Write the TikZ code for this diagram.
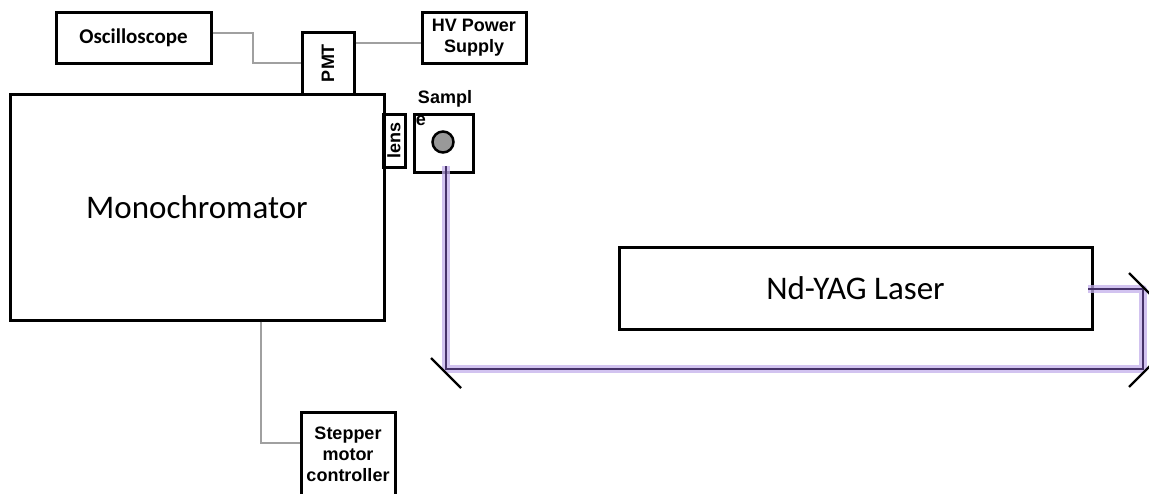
\documentclass[tikz,border=0pt]{standalone}
\usepackage{fontspec}
\setmainfont{Liberation Sans}
\newfontfamily\carlitofont{Carlito}
\definecolor{glow}{RGB}{195,175,235}
\definecolor{beamcore}{RGB}{70,50,105}
\definecolor{wiregray}{RGB}{160,160,160}
\begin{document}
\begin{tikzpicture}[x=1pt,y=-1pt,
  box/.style={draw=black, line width=3pt, inner sep=0pt, align=center,
    font=\bfseries\fontsize{18}{21}\selectfont},
  bigbox/.style={draw=black, line width=3pt, inner sep=0pt, align=center,
    font=\carlitofont\fontsize{33}{36}\selectfont},
  wire/.style={draw=wiregray, line width=2pt},
  glowline/.style={draw=glow, line width=8pt, opacity=0.75},
  coreline/.style={draw=beamcore, line width=1.3pt},
  mirror/.style={draw=black, line width=2.2pt},
  lbl/.style={inner sep=0pt, font=\bfseries\fontsize{18}{21}\selectfont}]
\useasboundingbox (0,0) rectangle (1149,493);

% boxes
\node[box, minimum width=155pt, minimum height=51pt,
  font=\carlitofont\bfseries\fontsize{21}{24}\selectfont] (osc) at (133.5,37.5) {Oscilloscope};
\node[box, minimum width=52pt, minimum height=62pt] (pmt) at (328,63) {\rotatebox{90}{PMT}};
\node[box, minimum width=104pt, minimum height=51pt] (hv) at (474,37.5) {HV Power\\Supply};
\node[bigbox, minimum width=374pt, minimum height=226pt] (mono) at (197,207) {Monochromator};
\node[box, minimum width=22pt, minimum height=53pt] (lens) at (394,140.5) {\rotatebox{90}{lens}};
\node[box, minimum width=59pt, minimum height=58pt] (sample) at (443.5,143) {};
\node[lbl] (samplbl) at (445,99) {Sampl};
\node[lbl] (samplble) at (421,121) {e};
\node[draw=black, line width=2.5pt, circle, fill=gray!80, minimum size=21pt, inner sep=0pt] (dot) at (443,142) {};
\node[box, minimum width=94pt, minimum height=85pt] (step) at (348,454.5) {Stepper\\motor\\controller};
\node[bigbox, minimum width=473pt, minimum height=82pt] (laser) at (855.5,288) {Nd-YAG Laser};

% wires
\draw[wire] ([yshift=4.5pt]osc.east) -- ++(40,0) |- (pmt.west);
\draw[wire] (pmt.east |- 0,43) -- (hv.west |- 0,43);
\draw[wire] (mono.south -| 261,0) |- ([yshift=11.5pt]step.west);

% beam path
\coordinate (m1) at (446,369);
\coordinate (m2) at (1143,369);
\coordinate (m3) at (1143,289);
\coordinate (bstart) at (1088,289);
\coordinate (bend) at (446,166);
\draw[glowline, line join=round] (bstart) -- (m3) -- (m2) -- (m1) -- (bend);
\draw[coreline] (bstart) -- (m3) -- (m2) -- (m1) -- (bend);

% mirrors
\draw[mirror] (431,358) -- (461,388);
\draw[mirror] (1129,273) -- (1156,300);
\draw[mirror] (1129,387) -- (1156,360);
\end{tikzpicture}
\end{document}
